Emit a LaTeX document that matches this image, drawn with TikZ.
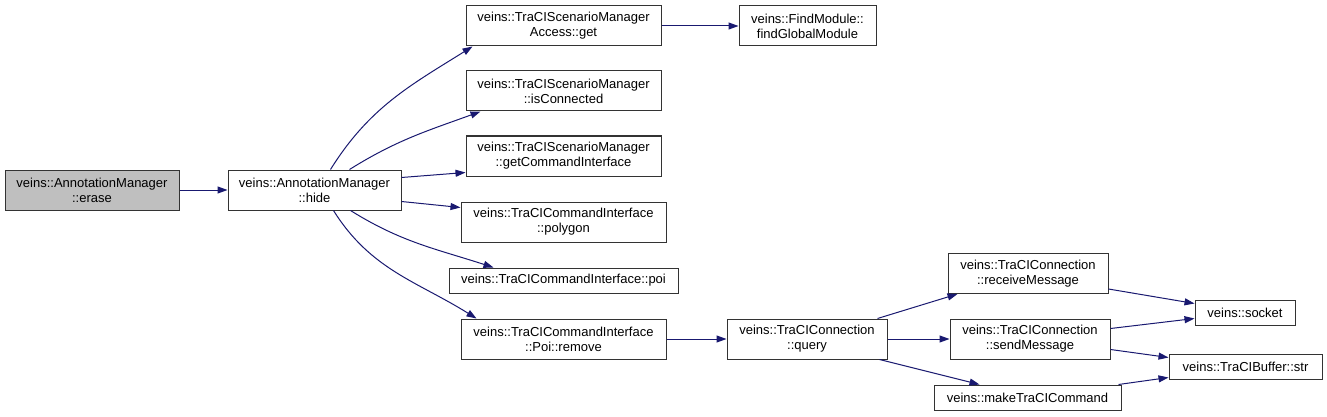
\documentclass[tikz,border=0pt]{standalone}
\usepackage{fontspec}
\setmainfont{Liberation Sans}
\usepackage{xcolor}
\usepackage{tikz}
\usetikzlibrary{positioning, arrows.meta}
\usetikzlibrary{shapes}
\definecolor{callblue}{HTML}{191970}
\definecolor{boxgray}{HTML}{BFBFBF}

\begin{document}
\begin{tikzpicture}[x=1pt, y=1pt, node distance=48pt,
	fn/.style={draw=black!80, line width=1pt, rectangle, align=center, inner sep=0pt,
		minimum height=40pt, font=\fontsize{13}{15}\selectfont},
	call/.style={draw=callblue, line width=1pt, -{Triangle[length=10pt, width=7pt]}}]
	\useasboundingbox (0,0) rectangle (1327,-417);
	\node[fn, fill=boxgray, minimum width=174pt] (erase) at (92,-190) {veins::AnnotationManager\\::erase};
	\node[fn, right = 48pt of erase, minimum width=173pt] (hide) {veins::AnnotationManager\\::hide};
	\node[fn, minimum width=195pt] (get) at (563.5,-26) {veins::TraCIScenarioManager\\Access::get};
	\node[fn, minimum width=195pt] (isconn) at (563.5,-91) {veins::TraCIScenarioManager\\::isConnected};
	\node[fn, minimum width=195pt] (getci) at (563.5,-156) {veins::TraCIScenarioManager\\::getCommandInterface};
	\node[fn, minimum width=205pt] (polygon) at (563.5,-222) {veins::TraCICommandInterface\\::polygon};
	\node[fn, minimum width=229pt, minimum height=25pt] (poi) at (563.5,-280.5) {veins::TraCICommandInterface::poi};
	\node[fn, minimum width=205pt] (remove) at (563.5,-339) {veins::TraCICommandInterface\\::Poi::remove};
	\node[fn, right = 77pt of get, minimum width=137pt] (findmod) {veins::FindModule::\\findGlobalModule};
	\node[fn, right = 60pt of remove, minimum width=160pt] (query) {veins::TraCIConnection\\::query};
	\node[fn, minimum width=160pt] (recv) at (1028,-273.5) {veins::TraCIConnection\\::receiveMessage};
	\node[fn, right = 62pt of query, minimum width=160pt] (send) {veins::TraCIConnection\\::sendMessage};
	\node[fn, minimum width=187pt, minimum height=25pt] (make) at (1027.5,-397.5) {veins::makeTraCICommand};
	\node[fn, minimum width=100pt, minimum height=25pt] (socket) at (1245,-312.5) {veins::socket};
	\node[fn, minimum width=153pt, minimum height=25pt] (str) at (1245.5,-366.5) {veins::TraCIBuffer::str};
	
	
	\draw (erase) edge[call] (hide) ;
	\draw ([xshift=16pt]hide.north) edge[call, out=58, in=212] ([xshift=7pt]get.south west) ;
	\draw ([xshift=35pt]hide.north) edge[call, out=32, in=200] ([xshift=15pt]isconn.south west) ;
	\draw ([yshift=-8pt]hide.north east) edge[call] ([yshift=4pt]getci.south west) ;
	\draw ([yshift=9pt]hide.south east) edge[call] ([yshift=-6pt]polygon.north west) ;
	\draw ([xshift=36pt]hide.south) edge[call, out=-32, in=162] ([xshift=45pt]poi.north west) ;
	\draw ([xshift=19pt]hide.south) edge[call, out=-58, in=148] ([xshift=16pt]remove.north west) ;
	\draw (get) edge[call] (findmod) ;
	\draw (remove) edge[call] (query) ;
	\draw ([xshift=-10pt]query.north east) edge[call] ([xshift=10pt]recv.south west) ;
	\draw (query) edge[call] (send) ;
	\draw ([xshift=-8pt]query.south east) edge[call] ([xshift=46pt]make.north west) ;
	\draw ([yshift=5pt]recv.south east) edge[call] ([yshift=-4pt]socket.north west) ;
	\draw ([yshift=-10pt]send.north east) edge[call] ([yshift=7pt]socket.south west) ;
	\draw ([yshift=10pt]send.south east) edge[call] ([yshift=-4pt]str.north west) ;
	\draw ([xshift=-3pt]make.north east) edge[call] ([yshift=2pt]str.south west) ;
	
\end{tikzpicture}
\end{document}
